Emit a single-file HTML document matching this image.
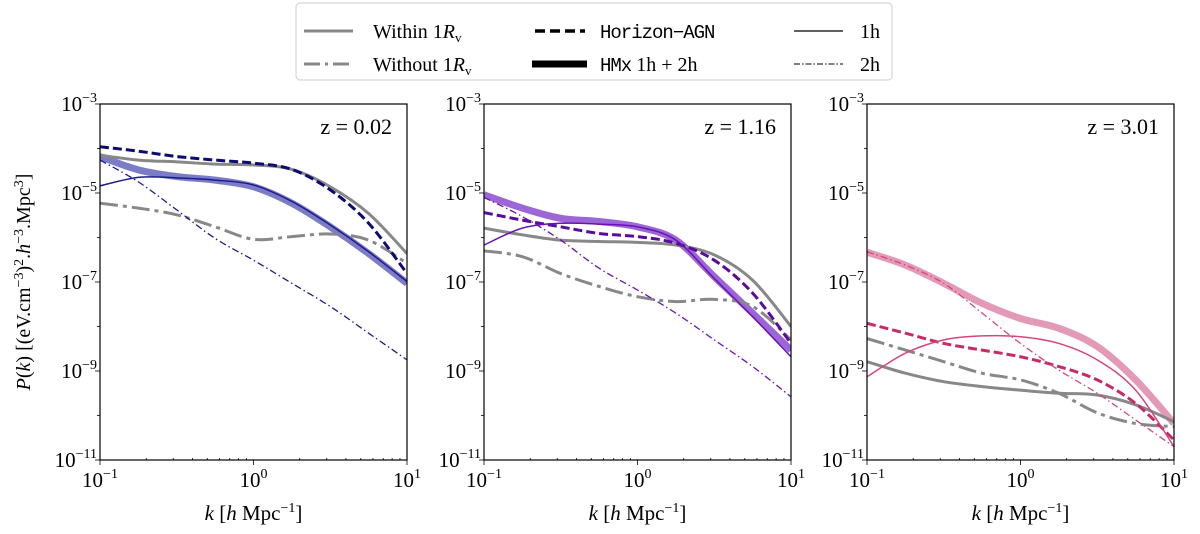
<!DOCTYPE html>
<html><head><meta charset="utf-8"><style>
body{margin:0;background:#fff;width:1200px;height:529px;overflow:hidden}
svg{font-family:"Liberation Serif",serif}
</style></head><body>
<svg id="c" width="1200" height="529" xmlns="http://www.w3.org/2000/svg">
<g>
<rect x="296" y="3" width="596" height="77" rx="4" fill="#fff" stroke="#ccc"/>
<g><line x1="304" y1="31" x2="353" y2="31" stroke="#888" stroke-width="3"/><text x="373" y="38" font-size="20">Within 1<tspan font-style="italic">R</tspan><tspan font-size="13" dy="4">v</tspan></text></g>
<g><line x1="304" y1="64" x2="353" y2="64" stroke="#888" stroke-width="3" stroke-dasharray="16,5,3,5"/><text x="373" y="71" font-size="20">Without 1<tspan font-style="italic">R</tspan><tspan font-size="13" dy="4">v</tspan></text></g>
<g><line x1="535" y1="31" x2="585" y2="31" stroke="#000" stroke-width="3.5" stroke-dasharray="10,5"/><text x="600" y="38" font-size="19" font-family="Liberation Mono,monospace" letter-spacing="-1">Horizon−AGN</text></g>
<g><line x1="532" y1="64" x2="587" y2="64" stroke="#000" stroke-width="7"/><text x="600" y="71" font-size="20"><tspan font-family="Liberation Mono,monospace" font-size="19" letter-spacing="-1">HMx</tspan> 1h + 2h</text></g>
<g><line x1="794" y1="31" x2="843" y2="31" stroke="#000" stroke-width="1.3"/><text x="860" y="38" font-size="20">1h</text></g>
<g><line x1="794" y1="64" x2="843" y2="64" stroke="#000" stroke-width="1.1" stroke-dasharray="6,2,1.5,2"/><text x="860" y="71" font-size="20">2h</text></g>
</g>
<text transform="translate(30,282) rotate(-90)" text-anchor="middle" font-size="20"><tspan font-style="italic">P</tspan>(<tspan font-style="italic">k</tspan>) [(eV.cm<tspan font-size="14" dy="-7">−3</tspan><tspan dy="7">)</tspan><tspan font-size="14" dy="-7">2</tspan><tspan dy="7">.</tspan><tspan font-style="italic">h</tspan><tspan font-size="14" dy="-7">−3</tspan><tspan dy="7">.Mpc</tspan><tspan font-size="14" dy="-7">3</tspan><tspan dy="7">]</tspan></text>
</svg>
<script>
const logK = [-1,-0.75,-0.5,-0.25,0,0.25,0.5,0.75,1];
const yTicks = [-3,-5,-7,-9,-11];
const xTicks = [-1,0,1];
const panelLabels = ["z = 0.02","z = 1.16","z = 3.01"];
// panel 1
const p1Within = [-4.15,-4.26,-4.30,-4.35,-4.37,-4.47,-4.86,-5.46,-6.36];
const p1Without = [-5.23,-5.34,-5.49,-5.76,-6.04,-5.98,-5.92,-6.06,-6.58];
const p1Horizon = [-3.96,-4.06,-4.18,-4.26,-4.33,-4.47,-4.93,-5.68,-6.81];
const p1HMx = [-4.18,-4.48,-4.63,-4.71,-4.86,-5.23,-5.76,-6.36,-7.03];
const p1One = [-4.84,-4.65,-4.66,-4.71,-4.82,-5.19,-5.72,-6.32,-6.99];
const p1Two = [-4.26,-4.75,-5.38,-6.02,-6.51,-7.03,-7.55,-8.15,-8.75];
// panel 2
const p2Within = [-5.79,-5.94,-6.06,-6.09,-6.11,-6.17,-6.39,-6.96,-8.00];
const p2Without = [-6.30,-6.43,-6.81,-7.10,-7.33,-7.44,-7.39,-7.55,-8.30];
const p2Horizon = [-5.44,-5.61,-5.76,-5.91,-5.98,-6.13,-6.51,-7.25,-8.38];
const p2HMx = [-5.04,-5.34,-5.57,-5.64,-5.76,-6.06,-6.88,-7.70,-8.53];
const p2One = [-6.17,-5.79,-5.68,-5.70,-5.76,-6.06,-6.92,-7.78,-8.68];
const p2Two = [-5.10,-5.53,-6.06,-6.69,-7.18,-7.70,-8.30,-8.90,-9.58];
// panel 3
const p3Within = [-8.79,-9.05,-9.24,-9.35,-9.43,-9.50,-9.54,-9.76,-10.14];
const p3Without = [-8.27,-8.53,-8.79,-9.05,-9.20,-9.50,-9.94,-10.18,-10.25];
const p3Horizon = [-7.93,-8.15,-8.38,-8.53,-8.68,-8.90,-9.20,-9.73,-10.55];
const p3HMx = [-6.33,-6.62,-7.03,-7.48,-7.82,-8.04,-8.45,-9.20,-10.18];
const p3One = [-9.13,-8.60,-8.30,-8.21,-8.23,-8.38,-8.75,-9.43,-10.70];
const p3Two = [-6.32,-6.62,-7.03,-7.70,-8.38,-8.98,-9.50,-10.10,-10.70];

const NS="http://www.w3.org/2000/svg";
const svg=document.getElementById('c');
function mk(t,a,p){const e=document.createElementNS(NS,t);for(const k in a)e.setAttribute(k,a[k]);(p||svg).appendChild(e);return e;}
const panels=[
 {x0:100,data:[p1Within,p1Without,p1Horizon,p1HMx,p1One,p1Two],c:"#1c1c8e",band:"#7b7bc6",dash:"#0b0b72"},
 {x0:484,data:[p2Within,p2Without,p2Horizon,p2HMx,p2One,p2Two],c:"#6a12b5",band:"#9d66d6",dash:"#5a0aa0"},
 {x0:867,data:[p3Within,p3Without,p3Horizon,p3HMx,p3One,p3Two],c:"#d4477a",band:"#e29ab6",dash:"#c82a66"}];
const Y0=104,Y1=460,W=307;
function pathD(xs,ys,sx,sy){const P=xs.map((v,i)=>[sx(v),sy(ys[i])]);let d="M"+P[0][0]+","+P[0][1];
 for(let i=0;i<P.length-1;i++){const p0=P[Math.max(0,i-1)],p1=P[i],p2=P[i+1],p3=P[Math.min(P.length-1,i+2)];
  d+=" C"+(p1[0]+(p2[0]-p0[0])/6)+","+(p1[1]+(p2[1]-p0[1])/6)+" "+(p2[0]-(p3[0]-p1[0])/6)+","+(p2[1]-(p3[1]-p1[1])/6)+" "+p2[0]+","+p2[1];}
 return d;}
panels.forEach((pn,pi)=>{
 const sx=v=>pn.x0+(v+1)/2*W, sy=v=>Y0+(-3-v)/8*(Y1-Y0);
 const g=mk('g',{'clip-path':'url(#clip'+pi+')'});
 
 
 const cp=mk('clipPath',{id:'clip'+pi});mk('rect',{x:pn.x0,y:Y0,width:W,height:Y1-Y0},cp);
 const [wi,wo,ho,hm,one,two]=pn.data;
 const specs=[
  [hm,pn.band,7,null,'hmx-band'],
  [wi,"#888",3,null,'within-line'],
  [wo,"#888",3,"18,5,4,5",'without-line'],
  [ho,pn.dash,3,"9,4",'horizon-agn-line'],
  [one,pn.c,1.5,null,'one-halo-line'],
  [two,pn.c,1.3,"7,3,1.5,3",'two-halo-line']];
 specs.forEach(s=>{const e=mk('path',{d:pathD(logK,s[0],sx,sy),fill:'none',stroke:s[1],'stroke-width':s[2],'stroke-linecap':'butt'},g);
  if(s[3])e.setAttribute('stroke-dasharray',s[3]);
  
  });
 const fr=mk('rect',{x:pn.x0,y:Y0,width:W,height:Y1-Y0,fill:'none',stroke:'#000','stroke-width':1.2});
 
 
 for(let d=-1;d<1;d++)for(let m=2;m<10;m++){const x=sx(d+Math.log10(m));mk('line',{x1:x,x2:x,y1:Y1,y2:Y1-2,stroke:'#000','stroke-width':0.8});}
 for(let v=-11;v<=-3;v++){const y=sy(v);mk('line',{x1:pn.x0,x2:pn.x0-(v%2?5:3),y1:y,y2:y,stroke:'#000','stroke-width':0.8});}
 xTicks.forEach(v=>{const x=sx(v);mk('line',{x1:x,x2:x,y1:Y1,y2:Y1+5,stroke:'#000','stroke-width':0.8});
  const t=mk('text',{x:x,y:Y1+27,'font-size':21,'text-anchor':'middle'});t.innerHTML='10<tspan font-size="14" dy="-9">'+(v<0?'−1':v)+'</tspan>';
  
  });
 yTicks.forEach(v=>{const t=mk('text',{x:pn.x0-3,y:sy(v)+7,'font-size':21,'text-anchor':'end'});t.innerHTML='10<tspan font-size="14" dy="-9">−'+(-v)+'</tspan>';
  
  });
 const z=mk('text',{x:pn.x0+W-15,y:134,'font-size':22,'text-anchor':'end'});z.textContent=panelLabels[pi];
 
 
 const xl=mk('text',{x:pn.x0+W/2,y:Y1+60,'font-size':21,'text-anchor':'middle'});
 xl.innerHTML='<tspan font-style="italic">k</tspan> [<tspan font-style="italic">h</tspan> Mpc<tspan font-size="14" dy="-8">−1</tspan><tspan dy="8">]</tspan>';
 
 
});
</script>
</body></html>
